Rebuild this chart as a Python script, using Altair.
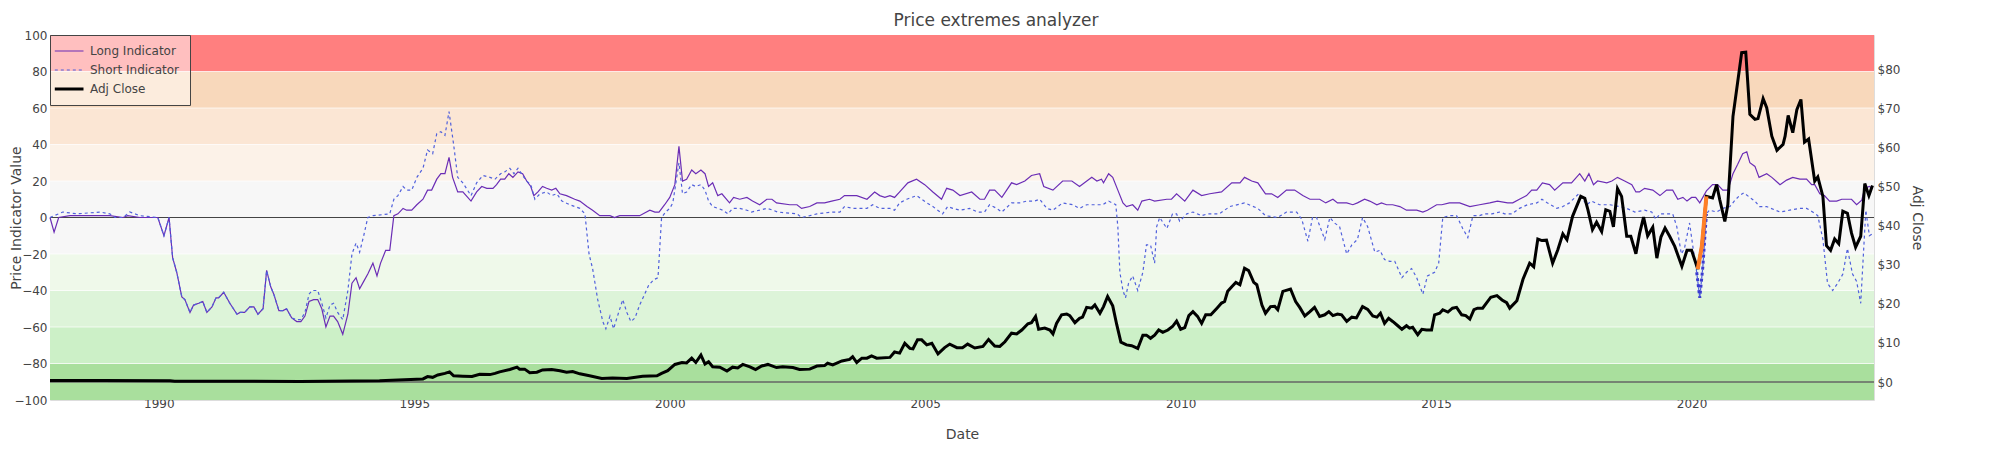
import altair as alt
import pandas as pd

# ---------------- data ----------------
long_points = [
    (1987.87, 0), (1987.95, -8), (1988.04, 0), (1988.26, 1), (1989.04, 1), (1989.30, 0), (1989.39, 1),
    (1989.63, 0), (1989.98, 0), (1990.10, -10), (1990.20, 0), (1990.27, -22), (1990.35, -30),
    (1990.45, -43.5), (1990.51, -45), (1990.61, -52), (1990.68, -48), (1990.78, -47), (1990.86, -46),
    (1990.94, -52), (1991.04, -49), (1991.12, -44), (1991.17, -44), (1991.27, -41), (1991.39, -47),
    (1991.53, -53), (1991.59, -52), (1991.68, -52), (1991.78, -49), (1991.86, -49), (1991.94, -53),
    (1992.04, -50), (1992.11, -29), (1992.19, -38), (1992.25, -42), (1992.35, -51), (1992.43, -51),
    (1992.50, -50), (1992.60, -55), (1992.70, -57), (1992.78, -57), (1992.86, -54), (1992.94, -46),
    (1993.03, -45), (1993.11, -45), (1993.19, -50), (1993.27, -60), (1993.35, -54), (1993.42, -54),
    (1993.50, -57), (1993.60, -64), (1993.70, -53), (1993.78, -36), (1993.86, -33), (1993.93, -39),
    (1994.01, -35), (1994.09, -31), (1994.19, -25), (1994.27, -32), (1994.34, -25), (1994.44, -18),
    (1994.52, -18), (1994.60, 1), (1994.68, 2), (1994.78, 5), (1994.85, 4), (1994.95, 4), (1995.05, 7),
    (1995.17, 10), (1995.26, 15), (1995.34, 15), (1995.44, 21), (1995.52, 24), (1995.60, 24),
    (1995.68, 33), (1995.75, 22), (1995.85, 14), (1995.95, 14), (1996.11, 9), (1996.22, 14),
    (1996.32, 17), (1996.42, 16), (1996.54, 16), (1996.61, 18), (1996.69, 21), (1996.77, 21),
    (1996.85, 24), (1996.93, 22), (1997.03, 25), (1997.12, 24), (1997.20, 20), (1997.28, 17),
    (1997.34, 12), (1997.42, 14), (1997.51, 17), (1997.59, 16), (1997.69, 15), (1997.77, 16),
    (1997.85, 13), (1997.98, 12), (1998.14, 10), (1998.24, 9), (1998.38, 6), (1998.49, 4), (1998.63, 1),
    (1998.83, 1), (1998.92, 0), (1999.02, 1), (1999.41, 1), (1999.61, 4), (1999.71, 3), (1999.79, 3),
    (1999.90, 7), (2000.00, 11), (2000.10, 18), (2000.18, 39), (2000.25, 20), (2000.33, 21),
    (2000.43, 26), (2000.51, 24), (2000.61, 26), (2000.69, 24), (2000.76, 17), (2000.84, 19),
    (2000.94, 12), (2001.02, 13), (2001.17, 8), (2001.25, 11), (2001.37, 10), (2001.51, 11),
    (2001.62, 9), (2001.76, 7), (2001.90, 10), (2002.00, 10), (2002.09, 8), (2002.35, 7), (2002.49, 7),
    (2002.58, 5), (2002.74, 6), (2002.88, 8), (2003.03, 8), (2003.17, 9), (2003.33, 10), (2003.42, 12),
    (2003.66, 12), (2003.86, 10), (2004.01, 14), (2004.11, 12), (2004.21, 11), (2004.31, 12),
    (2004.40, 11), (2004.50, 14), (2004.66, 19), (2004.83, 21), (2004.99, 18), (2005.15, 14),
    (2005.32, 10), (2005.42, 16), (2005.54, 15), (2005.68, 12), (2005.91, 14), (2006.07, 10),
    (2006.16, 10), (2006.26, 15), (2006.36, 15), (2006.50, 11), (2006.69, 19), (2006.79, 18),
    (2006.95, 20), (2007.08, 23), (2007.24, 24), (2007.32, 17), (2007.50, 15), (2007.69, 20),
    (2007.87, 20), (2008.02, 17), (2008.26, 22), (2008.36, 20), (2008.45, 21), (2008.49, 19),
    (2008.59, 24), (2008.67, 22), (2008.77, 15), (2008.87, 8), (2008.94, 6), (2009.06, 7), (2009.16, 4),
    (2009.24, 9), (2009.39, 10), (2009.49, 9), (2009.73, 10), (2009.82, 10), (2009.92, 13),
    (2010.08, 9), (2010.24, 15), (2010.41, 12), (2010.57, 13), (2010.80, 14), (2011.00, 19),
    (2011.16, 19), (2011.25, 22), (2011.39, 20), (2011.51, 19), (2011.66, 13), (2011.78, 13),
    (2011.90, 11), (2012.07, 15), (2012.23, 15), (2012.39, 12), (2012.53, 10), (2012.72, 10),
    (2012.84, 8), (2012.98, 10), (2013.07, 8), (2013.25, 8), (2013.37, 7), (2013.46, 8), (2013.60, 10),
    (2013.70, 9), (2013.84, 7), (2013.93, 8), (2014.03, 7), (2014.15, 7), (2014.29, 6), (2014.42, 4),
    (2014.62, 4), (2014.74, 3), (2014.83, 4), (2015.01, 7), (2015.11, 7), (2015.26, 8), (2015.46, 8),
    (2015.66, 6), (2015.85, 7), (2016.05, 8), (2016.20, 9), (2016.40, 8), (2016.50, 8), (2016.63, 10),
    (2016.77, 12), (2016.87, 15), (2016.97, 15), (2017.08, 19), (2017.22, 18), (2017.32, 15),
    (2017.48, 19), (2017.65, 19), (2017.81, 24), (2017.91, 20), (2017.99, 24), (2018.08, 18),
    (2018.16, 20), (2018.34, 19), (2018.44, 20), (2018.55, 22), (2018.69, 20), (2018.83, 18),
    (2018.91, 14), (2018.98, 14), (2019.08, 16), (2019.24, 15), (2019.38, 12), (2019.51, 15),
    (2019.63, 15), (2019.73, 10), (2019.83, 11), (2019.91, 9), (2020.00, 11), (2020.08, 11),
    (2020.16, 8), (2020.29, 14.6), (2020.41, 18), (2020.51, 18), (2020.61, 15), (2020.71, 15),
    (2020.81, 24), (2020.90, 29), (2021.00, 35), (2021.08, 36), (2021.14, 30), (2021.24, 28),
    (2021.32, 22), (2021.47, 24), (2021.57, 22), (2021.73, 18), (2021.86, 20.5), (2021.98, 22),
    (2022.12, 21), (2022.25, 21), (2022.35, 18), (2022.41, 18), (2022.51, 13), (2022.60, 12),
    (2022.70, 9), (2022.84, 9), (2022.94, 10), (2023.03, 10), (2023.13, 10), (2023.23, 7),
    (2023.33, 9.5), (2023.39, 16), (2023.48, 17), (2023.54, 16),
]

short_points = [
    (1987.87, 0), (1988.12, 3), (1988.40, 2), (1988.85, 3), (1989.04, 2), (1989.14, 0), (1989.30, 0),
    (1989.43, 3), (1989.63, 1), (1989.98, 0), (1990.10, -10), (1990.20, 0), (1990.27, -22),
    (1990.35, -30), (1990.45, -43.5), (1990.51, -45), (1990.61, -52), (1990.68, -48), (1990.78, -47),
    (1990.86, -46), (1990.94, -52), (1991.04, -49), (1991.12, -44), (1991.17, -44), (1991.27, -41),
    (1991.39, -47), (1991.53, -53), (1991.59, -52), (1991.68, -52), (1991.78, -49), (1991.86, -49),
    (1991.94, -53), (1992.04, -50), (1992.11, -29), (1992.19, -38), (1992.25, -42), (1992.35, -51),
    (1992.43, -51), (1992.50, -50), (1992.60, -55), (1992.70, -56), (1992.78, -56), (1992.86, -52),
    (1992.94, -42), (1993.00, -40), (1993.11, -40), (1993.19, -47), (1993.27, -55), (1993.35, -48),
    (1993.42, -47), (1993.50, -52), (1993.60, -56), (1993.70, -40), (1993.78, -20), (1993.86, -14),
    (1993.93, -19), (1994.01, -10), (1994.09, 0), (1994.19, 1), (1994.52, 2), (1994.60, 10),
    (1994.68, 12), (1994.78, 17), (1994.85, 15), (1994.95, 15), (1995.05, 22), (1995.17, 27),
    (1995.26, 37), (1995.36, 35), (1995.44, 46), (1995.52, 47), (1995.60, 45), (1995.68, 58),
    (1995.77, 40), (1995.85, 22), (1995.95, 19), (1996.11, 12), (1996.22, 19), (1996.34, 23),
    (1996.48, 22), (1996.58, 21), (1996.69, 24), (1996.77, 25), (1996.87, 27), (1996.95, 24),
    (1997.03, 27), (1997.12, 23), (1997.20, 20), (1997.28, 18), (1997.36, 10), (1997.46, 13),
    (1997.59, 14), (1997.69, 12), (1997.79, 13), (1997.89, 9), (1998.04, 7), (1998.24, 5), (1998.34, 2),
    (1998.42, -20), (1998.49, -28), (1998.59, -45), (1998.69, -57), (1998.75, -61), (1998.83, -54),
    (1998.90, -61), (1999.00, -52), (1999.08, -45), (1999.16, -52), (1999.24, -57), (1999.32, -55),
    (1999.41, -48), (1999.51, -42), (1999.59, -37), (1999.69, -34), (1999.77, -33), (1999.84, 0),
    (1999.92, 3), (2000.00, 5), (2000.06, 8), (2000.18, 30), (2000.25, 13), (2000.33, 14),
    (2000.43, 18), (2000.51, 17), (2000.61, 18), (2000.69, 15), (2000.76, 9), (2000.84, 6),
    (2000.94, 5), (2001.04, 4), (2001.14, 2), (2001.23, 5), (2001.37, 5), (2001.51, 4), (2001.60, 3),
    (2001.76, 4), (2001.90, 5), (2002.02, 4), (2002.11, 3), (2002.49, 2), (2002.58, 0), (2002.74, 1),
    (2002.88, 2), (2003.19, 3), (2003.33, 3), (2003.42, 6), (2003.58, 5), (2003.86, 5), (2003.97, 7),
    (2004.11, 5), (2004.31, 5), (2004.40, 4), (2004.50, 8), (2004.64, 10), (2004.83, 12), (2005.03, 8),
    (2005.15, 6), (2005.34, 2), (2005.44, 6), (2005.54, 5), (2005.68, 4), (2005.87, 5), (2006.03, 3),
    (2006.16, 3), (2006.26, 7), (2006.40, 5), (2006.50, 3), (2006.69, 8), (2006.85, 8), (2006.99, 9),
    (2007.14, 9), (2007.24, 10), (2007.38, 5), (2007.50, 4), (2007.69, 8), (2007.89, 7), (2008.02, 5),
    (2008.16, 7), (2008.47, 7), (2008.59, 9), (2008.73, 7), (2008.77, -5), (2008.81, -30),
    (2008.87, -40), (2008.92, -44), (2008.98, -36), (2009.06, -32), (2009.16, -40), (2009.26, -30),
    (2009.33, -15), (2009.41, -15), (2009.49, -25), (2009.53, -5), (2009.59, 0), (2009.73, -6),
    (2009.84, 2), (2009.92, 2), (2009.98, -2), (2010.12, 2), (2010.24, 3), (2010.41, 1), (2010.53, 2),
    (2010.76, 2), (2010.96, 6), (2011.25, 8), (2011.51, 5), (2011.66, 1), (2011.90, 0), (2012.07, 3),
    (2012.27, 3), (2012.37, -1), (2012.49, -13), (2012.58, 0), (2012.66, 0), (2012.82, -12),
    (2012.92, 0), (2013.01, -3), (2013.11, -5), (2013.25, -20), (2013.35, -15), (2013.46, -12),
    (2013.56, 0), (2013.66, -5), (2013.80, -19), (2013.90, -18), (2013.99, -23), (2014.09, -24),
    (2014.19, -24), (2014.33, -33), (2014.42, -30), (2014.52, -28), (2014.62, -33), (2014.74, -42),
    (2014.83, -32), (2014.97, -30), (2015.05, -25), (2015.13, 0), (2015.26, 1), (2015.40, 1),
    (2015.52, -6), (2015.62, -11), (2015.72, 1), (2015.85, 1), (2015.95, 2), (2016.09, 2), (2016.25, 3),
    (2016.34, 2), (2016.48, 2), (2016.63, 5), (2016.79, 7), (2016.97, 8), (2017.07, 10), (2017.18, 8),
    (2017.36, 5), (2017.48, 6), (2017.61, 8), (2017.79, 13), (2017.95, 7), (2018.04, 9), (2018.20, 7),
    (2018.40, 7), (2018.59, 6), (2018.73, 5), (2018.89, 3), (2019.08, 4), (2019.22, 3), (2019.30, -1),
    (2019.38, 2), (2019.63, 2), (2019.71, -5), (2019.80, -20), (2019.86, -17), (2019.96, -3),
    (2020.02, -15), (2020.10, -30), (2020.16, -44), (2020.22, -27), (2020.29, 2), (2020.35, 4),
    (2020.49, 3), (2020.61, 5), (2020.75, 6), (2020.85, 9.5), (2020.94, 12), (2021.02, 13.5),
    (2021.14, 11), (2021.24, 9), (2021.33, 6), (2021.47, 6), (2021.73, 3), (2021.92, 4), (2022.12, 5),
    (2022.25, 5), (2022.37, 3), (2022.47, 1), (2022.57, -12), (2022.66, -36), (2022.76, -40),
    (2022.86, -36), (2022.96, -31), (2023.05, -17), (2023.15, -31), (2023.23, -35), (2023.31, -47),
    (2023.41, 4), (2023.48, -10), (2023.54, -9),
]

close_points = [
    (1987.87, 0.4), (1988.85, 0.4), (1990.22, 0.3), (1990.31, 0.2), (1992.76, 0.15), (1994.32, 0.3),
    (1995.17, 0.8), (1995.26, 1.4), (1995.36, 1.2), (1995.46, 1.8), (1995.60, 2.2), (1995.69, 2.6),
    (1995.77, 1.6), (1995.95, 1.5), (1996.13, 1.4), (1996.28, 2.0), (1996.48, 1.9), (1996.58, 2.2),
    (1996.67, 2.6), (1996.87, 3.2), (1997.01, 3.8), (1997.06, 3.3), (1997.16, 3.3), (1997.26, 2.4),
    (1997.40, 2.5), (1997.51, 3.1), (1997.69, 3.2), (1997.85, 2.9), (1997.98, 2.5), (1998.10, 2.7),
    (1998.24, 2.1), (1998.43, 1.6), (1998.67, 0.9), (1998.88, 1.0), (1999.16, 0.9), (1999.47, 1.5),
    (1999.75, 1.6), (1999.84, 2.2), (1999.96, 2.9), (2000.10, 4.5), (2000.24, 5.0), (2000.33, 4.9),
    (2000.43, 6.1), (2000.51, 5.0), (2000.61, 6.9), (2000.69, 4.6), (2000.76, 5.2), (2000.84, 3.9),
    (2000.98, 3.8), (2001.12, 2.8), (2001.23, 3.8), (2001.33, 3.6), (2001.43, 4.5), (2001.57, 3.9),
    (2001.68, 3.2), (2001.80, 4.1), (2001.92, 4.5), (2002.09, 3.7), (2002.21, 3.9), (2002.41, 3.7),
    (2002.54, 3.2), (2002.74, 3.3), (2002.88, 4.1), (2003.03, 4.2), (2003.09, 4.8), (2003.19, 4.4),
    (2003.37, 5.4), (2003.52, 5.8), (2003.58, 6.5), (2003.66, 5.0), (2003.76, 6.1), (2003.86, 6.1),
    (2003.95, 6.7), (2004.05, 6.1), (2004.31, 6.3), (2004.40, 7.7), (2004.50, 7.4), (2004.60, 9.9),
    (2004.70, 8.6), (2004.76, 8.5), (2004.85, 10.8), (2004.93, 10.8), (2005.03, 9.5), (2005.13, 9.9),
    (2005.25, 7.2), (2005.38, 8.8), (2005.48, 9.7), (2005.62, 8.8), (2005.73, 8.8), (2005.83, 9.7),
    (2005.97, 8.7), (2006.13, 9.1), (2006.24, 10.9), (2006.36, 9.2), (2006.46, 9.1), (2006.56, 10.3),
    (2006.69, 12.5), (2006.79, 12.3), (2006.89, 13.3), (2007.01, 14.9), (2007.08, 15.2), (2007.16, 16.8),
    (2007.22, 13.5), (2007.34, 13.8), (2007.44, 13.3), (2007.50, 12.3), (2007.57, 15.0), (2007.67, 17.2),
    (2007.77, 17.4), (2007.83, 17.0), (2007.93, 15.2), (2008.02, 16.3), (2008.08, 16.6), (2008.16, 19.1),
    (2008.26, 18.9), (2008.32, 19.7), (2008.42, 17.6), (2008.49, 19.3), (2008.57, 21.9), (2008.67, 19.5),
    (2008.75, 14.6), (2008.83, 10.2), (2008.94, 9.5), (2009.04, 9.3), (2009.16, 8.6), (2009.26, 12.0),
    (2009.33, 12.0), (2009.41, 11.2), (2009.49, 12.0), (2009.57, 13.3), (2009.65, 12.7), (2009.75, 13.3),
    (2009.84, 14.2), (2009.92, 15.6), (2010.00, 13.5), (2010.08, 13.9), (2010.16, 17.0), (2010.24, 18.0),
    (2010.33, 16.8), (2010.41, 15.0), (2010.49, 17.2), (2010.59, 17.2), (2010.71, 18.9), (2010.80, 20.2),
    (2010.86, 20.6), (2010.92, 23.2), (2011.00, 24.4), (2011.08, 25.5), (2011.16, 24.9), (2011.25, 29.1),
    (2011.33, 28.5), (2011.43, 25.5), (2011.49, 24.9), (2011.59, 19.7), (2011.66, 17.6), (2011.76, 19.3),
    (2011.84, 19.4), (2011.90, 18.5), (2012.00, 23.2), (2012.15, 23.8), (2012.25, 20.6), (2012.33, 19.1),
    (2012.43, 16.9), (2012.53, 18.0), (2012.62, 19.1), (2012.72, 16.8), (2012.82, 17.2), (2012.90, 18.0),
    (2012.98, 17.0), (2013.07, 17.4), (2013.15, 17.2), (2013.25, 15.5), (2013.35, 16.6), (2013.44, 16.4),
    (2013.56, 19.3), (2013.66, 18.6), (2013.76, 16.9), (2013.84, 16.6), (2013.91, 17.6), (2013.99, 15.0),
    (2014.07, 16.3), (2014.15, 15.5), (2014.25, 14.4), (2014.33, 13.5), (2014.42, 14.4), (2014.48, 13.8),
    (2014.54, 14.0), (2014.64, 12.1), (2014.72, 13.5), (2014.81, 13.3), (2014.91, 13.3), (2014.97, 17.2),
    (2015.07, 17.6), (2015.13, 18.5), (2015.23, 17.9), (2015.32, 18.9), (2015.40, 19.1), (2015.50, 17.2),
    (2015.58, 17.0), (2015.66, 16.1), (2015.74, 18.5), (2015.81, 18.9), (2015.91, 18.9), (2016.07, 21.7),
    (2016.19, 22.1), (2016.29, 21.0), (2016.38, 20.3), (2016.44, 18.9), (2016.58, 20.8), (2016.70, 26.3),
    (2016.83, 30.4), (2016.91, 29.5), (2016.99, 36.6), (2017.07, 36.2), (2017.16, 36.3), (2017.28, 30.4),
    (2017.38, 33.8), (2017.48, 37.9), (2017.56, 36.4), (2017.67, 42.4), (2017.83, 47.5), (2017.91, 47.0),
    (2017.97, 44.1), (2018.06, 39.0), (2018.14, 40.9), (2018.24, 38.5), (2018.32, 44.1), (2018.40, 43.7),
    (2018.47, 39.7), (2018.55, 49.5), (2018.63, 47.5), (2018.73, 37.3), (2018.81, 37.3), (2018.91, 32.8),
    (2018.98, 37.9), (2019.06, 42.2), (2019.14, 37.4), (2019.24, 39.6), (2019.32, 31.7), (2019.40, 37.1),
    (2019.48, 39.4), (2019.57, 37.3), (2019.67, 34.7), (2019.81, 29.6), (2019.91, 33.7), (2020.00, 33.7),
    (2020.12, 28.9), (2020.20, 34.7), (2020.29, 47.5), (2020.41, 47.1), (2020.49, 50.5), (2020.55, 46.7),
    (2020.65, 41.1), (2020.71, 45.4), (2020.81, 68.0), (2020.90, 76.6), (2020.98, 84.3), (2021.06, 84.4),
    (2021.14, 68.5), (2021.24, 67.2), (2021.30, 67.4), (2021.40, 72.5), (2021.47, 70.2), (2021.57, 62.9),
    (2021.67, 59.3), (2021.79, 60.8), (2021.83, 62.9), (2021.89, 68.2), (2021.98, 63.8), (2022.06, 69.7),
    (2022.14, 72.3), (2022.21, 61.4), (2022.29, 62.2), (2022.41, 51.4), (2022.47, 52.5), (2022.57, 47.5),
    (2022.64, 34.9), (2022.72, 33.7), (2022.80, 36.6), (2022.88, 35.4), (2022.96, 43.7), (2023.05, 43.2),
    (2023.13, 38.1), (2023.21, 34.5), (2023.31, 37.3), (2023.39, 50.8), (2023.47, 47.7), (2023.54, 50.3),
]

# highlighted signal segments (2020)
surge_close_points = [(2020.12, 28.9), (2020.20, 34.7), (2020.29, 47.5)]
surge_short_points = [(2020.10, -30), (2020.16, -44), (2020.22, -27), (2020.29, 2)]

# background zones of the indicator axis
band_low = [-100, -80, -60, -40, -20, 0, 20, 40, 60, 80]
band_high = [-80, -60, -40, -20, 0, 20, 40, 60, 80, 100]
band_color = ["#a9df9d", "#ccf0c7", "#ddf4d9", "#eff9ea", "#f7f7f7",
              "#f7f7f7", "#fcf2e8", "#fbe6d4", "#f8d8bb", "#ff7f7f"]
zero_levels = [0]

left_ticks = [-100, -80, -60, -40, -20, 0, 20, 40, 60, 80, 100]
right_ticks = [0, 10, 20, 30, 40, 50, 60, 70, 80]
year_ticks = [1990, 1995, 2000, 2005, 2010, 2015, 2020]

series_names = ["Long Indicator", "Short Indicator", "Adj Close"]
series_colors = ["#6b2db5", "#5060dc", "#000000"]

# ---------------- tables ----------------
def frame(points, name):
    return pd.DataFrame({"Date": [p[0] for p in points],
                         "value": [p[1] for p in points],
                         "series": name})

long_df = frame(long_points, "Long Indicator")
short_df = frame(short_points, "Short Indicator")
close_df = frame(close_points, "Adj Close")
surge_close_df = frame(surge_close_points, "Adj Close")
surge_short_df = frame(surge_short_points, "Short Indicator")
band_df = pd.DataFrame({"lo": band_low, "hi": band_high, "color": band_color})
grid_df = pd.DataFrame({"value": band_low[1:]})
zero_df = pd.DataFrame({"value": zero_levels})

FONT = "DejaVu Sans"
TXT = "#444444"

x_enc = alt.X("Date:Q",
              scale=alt.Scale(domain=[1987.87, 2023.57], nice=False, zero=False),
              axis=alt.Axis(values=year_ticks, format="d", title="Date", grid=False,
                            domain=False, ticks=False, labelPadding=-2, titlePadding=18,
                            labelFontSize=12, titleFontSize=14, labelColor=TXT,
                            titleColor=TXT, titleFontWeight="normal",
                            labelFont=FONT, titleFont=FONT))

left_scale = alt.Scale(domain=[-100, 100], nice=False, zero=False)
right_scale = alt.Scale(domain=[-4.6, 88.8], nice=False, zero=False)

left_axis = alt.Axis(values=left_ticks, title="Price Indicator Value", grid=False,
                     domain=False, ticks=False, labelPadding=3,
                     titleX=-34, titleBaseline="middle",
                     labelFontSize=12, titleFontSize=14, labelColor=TXT, titleColor=TXT,
                     titleFontWeight="normal", labelFont=FONT, titleFont=FONT)
right_axis = alt.Axis(orient="right", values=right_ticks, labelExpr="'$' + datum.value",
                      title="Adj Close", grid=False, domain=False, ticks=False,
                      labelPadding=3, titlePadding=10, labelFontSize=12, titleFontSize=14,
                      labelColor=TXT, titleColor=TXT, titleFontWeight="normal",
                      labelFont=FONT, titleFont=FONT)


def y_left(field="value:Q"):
    return alt.Y(field, scale=left_scale, axis=left_axis)


def y_right(field="value:Q"):
    return alt.Y(field, scale=right_scale, axis=right_axis)


color_scale = alt.Scale(domain=series_names, range=series_colors)
legend = alt.Legend(
    title=None, orient="none", legendX=0, legendY=0,
    fillColor="rgba(255,255,255,0.5)", strokeColor="#444444", padding=10,
    symbolType="M-1.6,0H2.5", symbolSize=196, labelOffset=18, rowPadding=7,
    labelFontSize=12, labelColor=TXT, labelFont=FONT,
    symbolStrokeWidth={"expr": "datum.value === 'Adj Close' ? 3 : 1.2"},
    symbolDash={"expr": "datum.value === 'Short Indicator' ? [3, 3] : [1, 0]"},
    symbolFillColor="transparent",
)

bands = alt.Chart(band_df).mark_rect().encode(
    x=alt.value(0), x2=alt.value("width"),
    y=y_left("lo:Q"), y2="hi:Q",
    color=alt.Color("color:N", scale=None),
)
grid = alt.Chart(grid_df).mark_rule(color="#ffffff", opacity=0.7, strokeWidth=1).encode(
    y=y_left())
zero_left = alt.Chart(zero_df).mark_rule(color="#444444", strokeWidth=1).encode(y=y_left())

long_line = alt.Chart(long_df).mark_line(strokeWidth=1.2).encode(
    x=x_enc, y=y_left(),
    color=alt.Color("series:N", scale=color_scale, legend=legend),
)
short_line = alt.Chart(short_df).mark_line(strokeWidth=1.2, strokeDash=[3, 3]).encode(
    x=x_enc, y=y_left(),
    color=alt.Color("series:N", scale=color_scale, legend=None),
)
short_surge = alt.Chart(surge_short_df).mark_line(
    strokeWidth=3, strokeDash=[3, 3], color="#3b3bd0").encode(x=x_enc, y=y_left())

left_group = alt.layer(bands, grid, zero_left, long_line, short_line, short_surge)

zero_right = alt.Chart(zero_df).mark_rule(color="#666666", strokeWidth=1.5).encode(y=y_right())
close_line = alt.Chart(close_df).mark_line(strokeWidth=3).encode(
    x=x_enc, y=y_right(),
    color=alt.Color("series:N", scale=color_scale, legend=None),
)
close_surge = alt.Chart(surge_close_df).mark_line(strokeWidth=4, color="#ff7f27").encode(
    x=x_enc, y=y_right())

right_group = alt.layer(zero_right, close_line, close_surge)

chart = alt.layer(left_group, right_group).resolve_scale(y="independent").properties(
    width=1824, height=365,
    autosize=alt.AutoSizeParams(type="none"),
    padding={"left": 42, "top": 27, "right": 111, "bottom": 42},
    title=alt.TitleParams("Price extremes analyzer", fontSize=17, font=FONT, color=TXT,
                          fontWeight="normal", anchor="middle", frame="group",
                          offset=-1, dx=34),
).configure_view(stroke=None).configure(font=FONT)

chart.save("out.html", embed_options={"renderer": "svg", "actions": False})
